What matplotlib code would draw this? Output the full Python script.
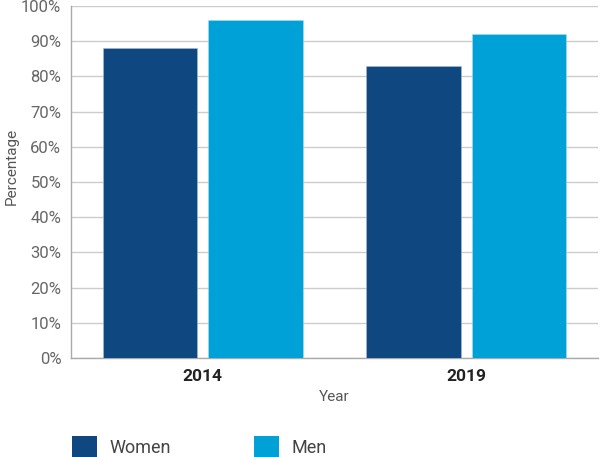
import matplotlib
matplotlib.use("Agg")
import matplotlib.pyplot as plt
from matplotlib.patches import Patch
import numpy as np

plt.rcParams['font.family'] = ['Roboto', 'DejaVu Sans']

years = ["2014", "2019"]
women = [88, 83]
men = [96, 92]
yticks = [0, 10, 20, 30, 40, 50, 60, 70, 80, 90, 100]

c_women = "#0F4780"
c_men = "#00A1D6"

fig = plt.figure(figsize=(6, 4.57), dpi=100)
ax = fig.add_axes([71/600, 1-358/457, 527/600, 352/457])

x = np.arange(len(years))
w = 0.36
ax.bar(x - 0.2, women, w, color=c_women, edgecolor="#a9bcd0", linewidth=0.4, zorder=3)
ax.bar(x + 0.2, men, w, color=c_men, edgecolor="#a8dcef", linewidth=0.4, zorder=3)

ax.set_xlim(-0.5, 1.5)
ax.set_ylim(0, 100)
ax.set_yticks(yticks)
ax.set_yticklabels([f"{v}%" for v in yticks], fontsize=12, color="#666666", fontweight="normal")
ax.set_xticks(x)
ax.set_xticklabels(years, fontsize=12.5, fontweight="bold", color="#222222")
ax.tick_params(axis="both", length=0)
ax.tick_params(axis="y", pad=7)
ax.tick_params(axis="x", pad=8)
ax.grid(axis="y", color="#cccccc", linewidth=1, zorder=0)
for s in ["top", "right"]:
    ax.spines[s].set_visible(False)
for s in ["left", "bottom"]:
    ax.spines[s].set_color("#aaaaaa")
    ax.spines[s].set_linewidth(1)

ax.set_xlabel("Year", fontsize=11, color="#555555", fontweight="normal", labelpad=4)
ax.set_ylabel("Percentage", fontsize=11, color="#555555", fontweight="normal")
ax.yaxis.set_label_coords(-0.1, 0.543)

handles = [Patch(facecolor=c_women, edgecolor="none", label="Women"),
           Patch(facecolor=c_men, edgecolor="none", label="Men")]
leg = fig.legend(handles=handles, loc="lower left", bbox_to_anchor=(72/600, 0.0),
                 ncol=2, frameon=False, fontsize=13, handlelength=1.4, handleheight=1.4,
                 handletextpad=0.7, columnspacing=4.55, borderpad=0.0, borderaxespad=0)
for t in leg.get_texts():
    t.set_color("#444444")

fig.savefig("out.png", dpi=100)
